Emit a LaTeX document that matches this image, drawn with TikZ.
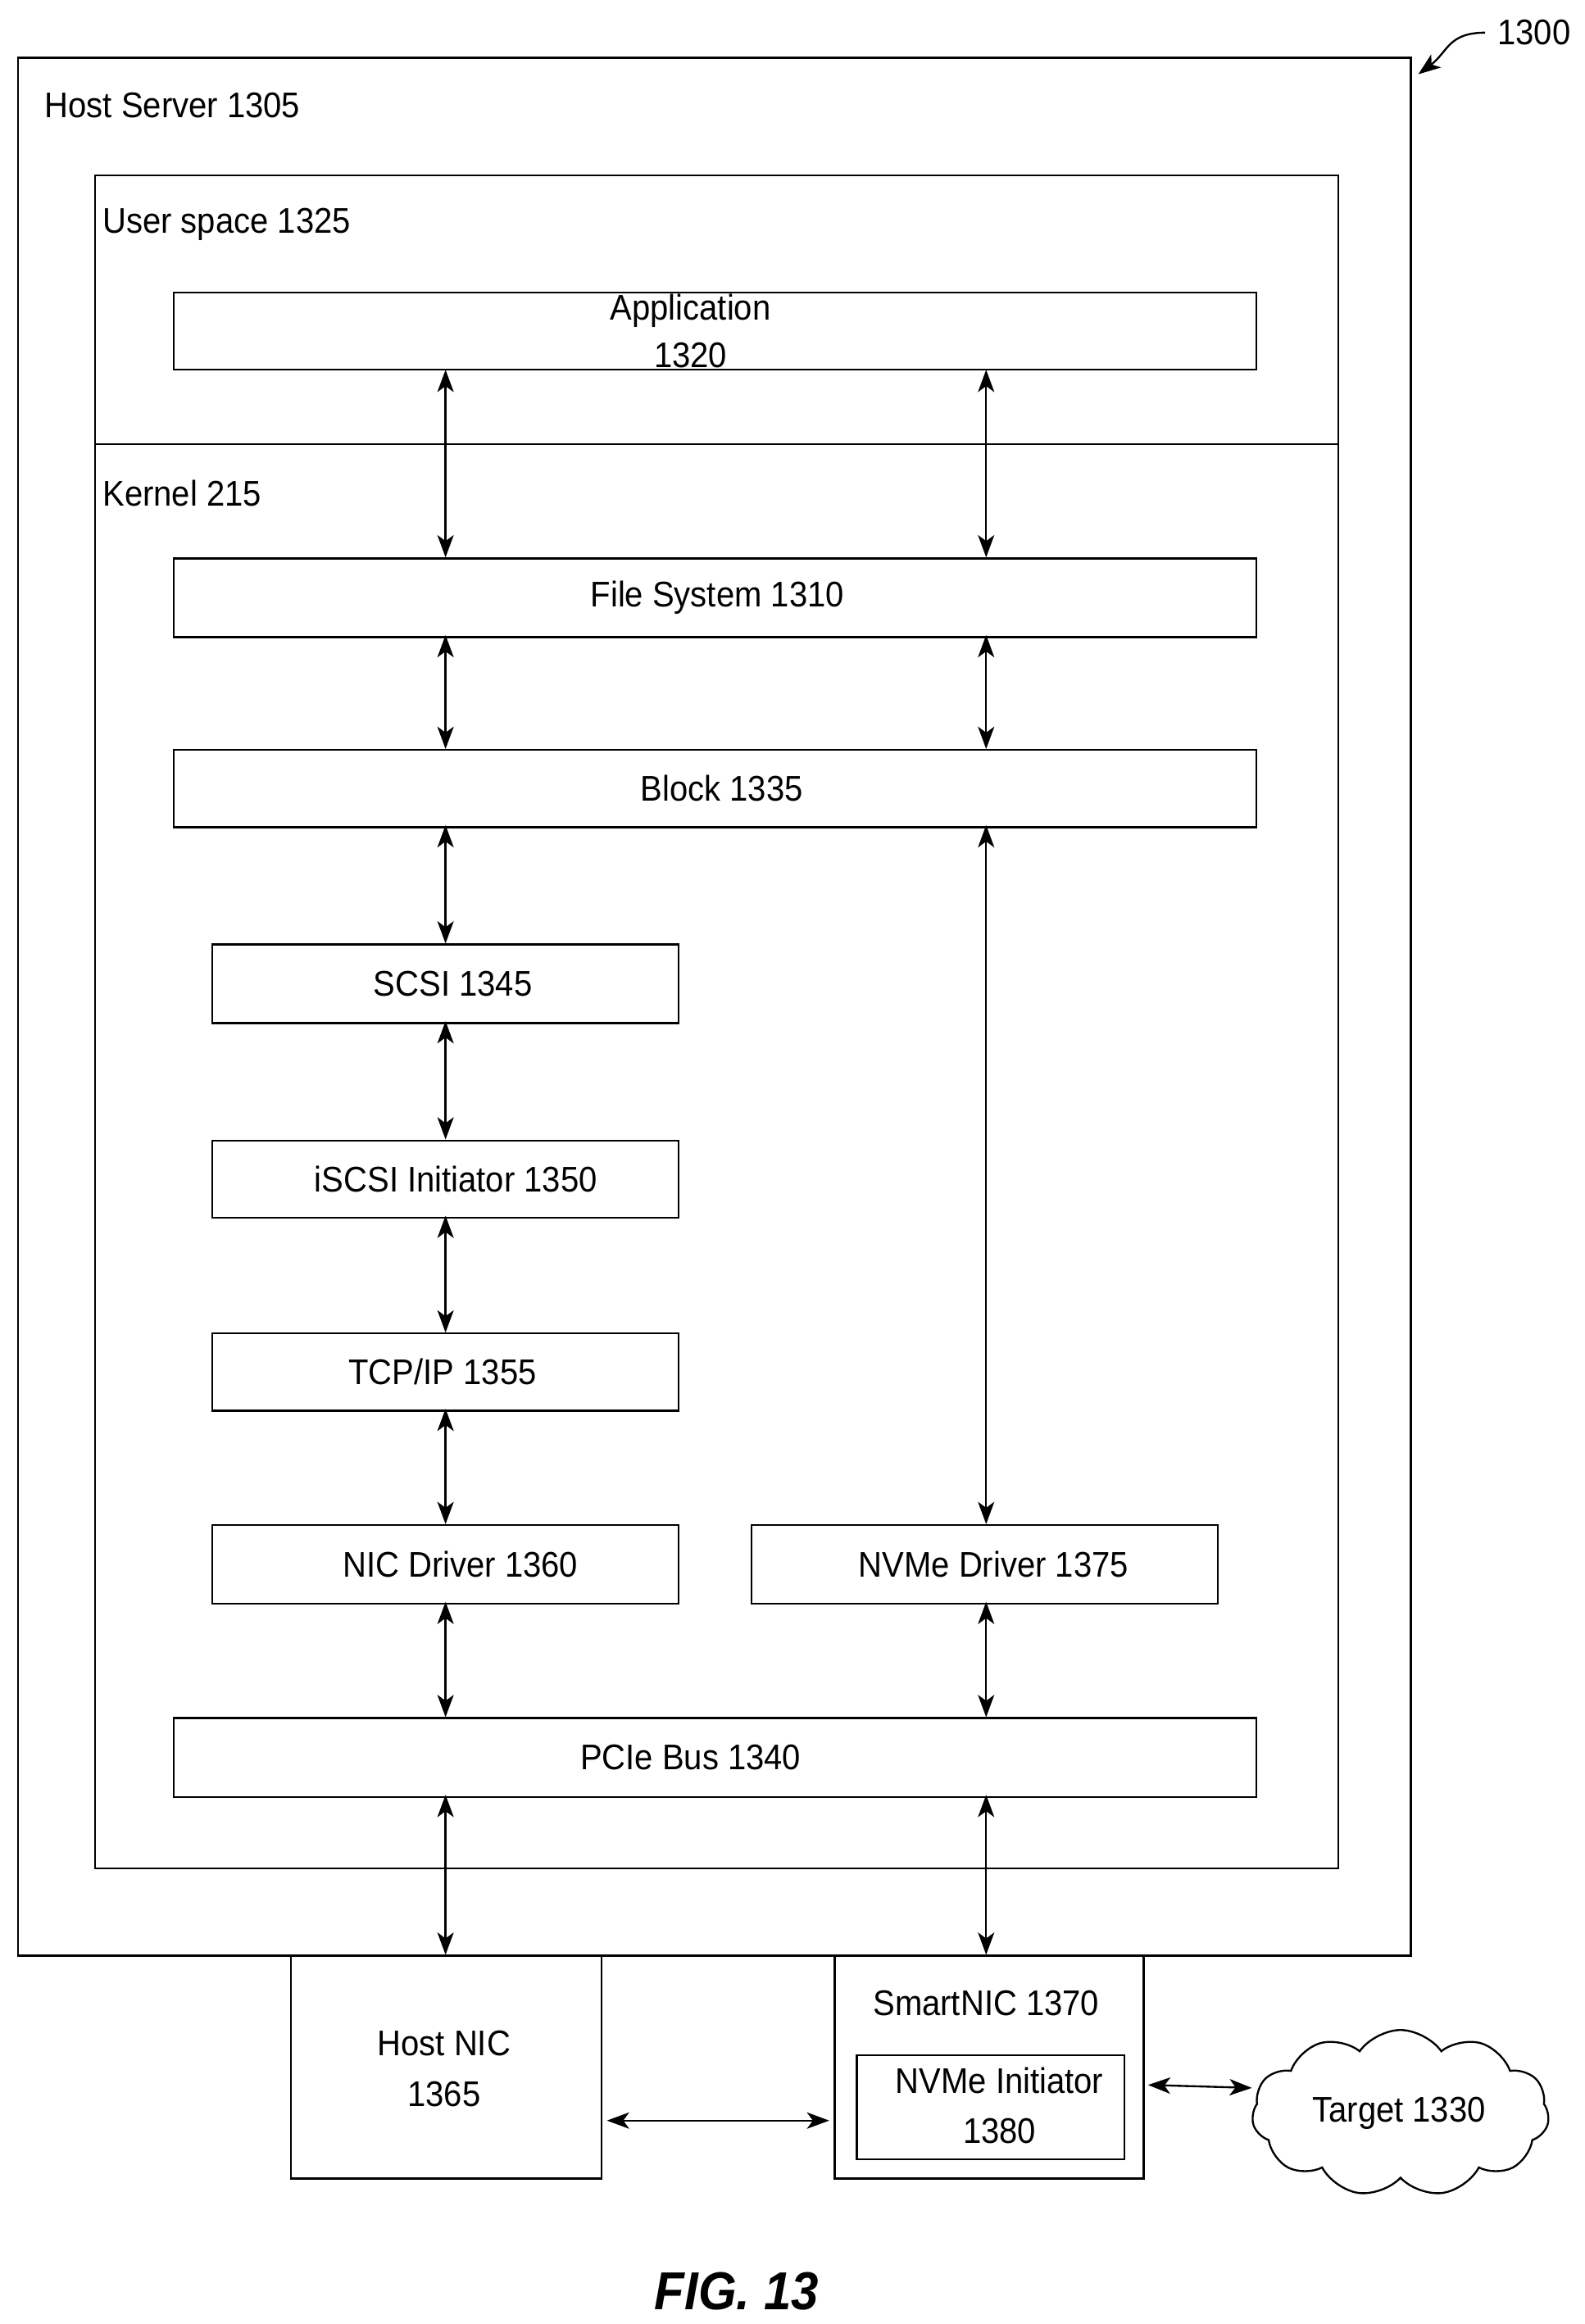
\documentclass[tikz,border=0pt]{standalone}
\usepackage{fontspec}
\setmainfont[FakeStretch=0.92]{Liberation Sans}
\usetikzlibrary{arrows.meta,shapes.symbols}
\begin{document}
\begin{tikzpicture}[x=1pt,y=-1pt,
  box/.style={draw,line width=1.3pt,inner sep=0pt},
  lbl/.style={font=\fontsize{24}{30}\selectfont,inner sep=0pt},
  tip/.tip={Stealth[length=15pt,width=11pt,inset=4pt]},
  dar/.style={tip-tip,line width=1.3pt}]
\useasboundingbox (0,0) rectangle (1067,1565);
\fill[white] (0,0) rectangle (1067,1565);
% outer
\draw[line width=1.3pt] (12,39) rectangle (950,1317);
\node[lbl,anchor=west] (hs) at (30,71) {Host Server 1305};
\node[lbl] (n1300) at (1033,22) {1300};
\coordinate (c1) at (1000,22);
\draw[line width=1.3pt,-tip] (c1) .. controls (975,22) and (975,35) .. (955,50);
\draw[line width=1.3pt] (64,118) rectangle (901,1258);
\draw[line width=1.3pt] (64,299) -- (901,299);
\node[lbl,anchor=west] (us) at (69,151) {User space 1325};
\node[lbl,anchor=west] (kn) at (69,332) {Kernel 215};
% boxes
\draw[line width=1.3pt] (117,197) rectangle (846,249);
\node[lbl,align=center] (app) at (465,223) {Application\\[2pt]1320};
\coordinate (appB1) at (300,249); \coordinate (appB2) at (664,249);
\node[box,minimum width=729pt,minimum height=53pt] (fs) at (481.5,402.5) {};
\node[lbl] at (483,402.5) {File System 1310};
\node[box,minimum width=729pt,minimum height=52pt] (blk) at (481.5,531) {};
\node[lbl] at (486,531) {Block 1335};
\node[box,minimum width=314pt,minimum height=53pt] (scsi) at (300,662.5) {};
\node[lbl] at (305,662.5) {SCSI 1345};
\node[box,minimum width=314pt,minimum height=52pt] (iscsi) at (300,794) {};
\node[lbl] at (307,794) {iSCSI Initiator 1350};
\node[box,minimum width=314pt,minimum height=52pt] (tcp) at (300,924) {};
\node[lbl] at (298,924) {TCP/IP 1355};
\node[box,minimum width=314pt,minimum height=53pt] (nicd) at (300,1053.5) {};
\node[lbl] at (310,1053.5) {NIC Driver 1360};
\node[box,minimum width=314pt,minimum height=53pt] (nvmed) at (663,1053.5) {};
\node[lbl] at (669,1053.5) {NVMe Driver 1375};
\node[box,minimum width=729pt,minimum height=53pt] (pcie) at (481.5,1183.5) {};
\node[lbl] at (465,1183.5) {PCIe Bus 1340};
\node[box,minimum width=209pt,minimum height=150pt] (hnic) at (300.5,1392) {};
\node[lbl,align=center] at (299,1393) {Host NIC\\[4pt]1365};
\node[box,minimum width=208pt,minimum height=150pt] (snic) at (666,1392) {};
\node[lbl] at (664,1349) {SmartNIC 1370};
\node[box,minimum width=180pt,minimum height=70pt] (nvi) at (667,1419) {};
\node[lbl,align=center] at (673,1418) {NVMe Initiator\\[4pt]1380};
\node[draw,line width=1.3pt,cloud,cloud puffs=11,cloud puff arc=110,aspect=1.9,minimum width=200pt,minimum height=112pt,inner sep=0pt] (tgt) at (943,1423) {};
\node[lbl] at (942,1423) {Target 1330};
\node[font=\fontsize{36}{40}\selectfont\bfseries\itshape] (fig) at (496,1543) {FIG. 13};
% arrows
\draw[dar] (appB1) -- (fs.north -| appB1);
\draw[dar] (appB2) -- (fs.north -| appB2);
\draw[dar] ([yshift=2pt]fs.south -| appB1) -- (blk.north -| appB1);
\draw[dar] ([yshift=2pt]fs.south -| appB2) -- (blk.north -| appB2);
\draw[dar] ([yshift=2pt]blk.south -| appB1) -- (scsi.north -| appB1);
\draw[dar] ([yshift=2pt]blk.south -| appB2) -- (nvmed.north -| appB2);
\draw[dar] ([yshift=2pt]scsi.south -| appB1) -- (iscsi.north -| appB1);
\draw[dar] ([yshift=2pt]iscsi.south -| appB1) -- (tcp.north -| appB1);
\draw[dar] ([yshift=2pt]tcp.south -| appB1) -- (nicd.north -| appB1);
\draw[dar] ([yshift=2pt]nicd.south -| appB1) -- (pcie.north -| appB1);
\draw[dar] ([yshift=2pt]nvmed.south -| appB2) -- (pcie.north -| appB2);
\draw[dar] ([yshift=2pt]pcie.south -| appB1) -- (hnic.north -| appB1);
\draw[dar] ([yshift=2pt]pcie.south -| appB2) -- (snic.north -| appB2);
\draw[dar] ([xshift=3pt]hnic.east |- 0,1428) -- ([xshift=-3pt]snic.west |- 0,1428);
\draw[dar] (773,1404) -- (tgt.west |- 0,1406);
\end{tikzpicture}
\end{document}
